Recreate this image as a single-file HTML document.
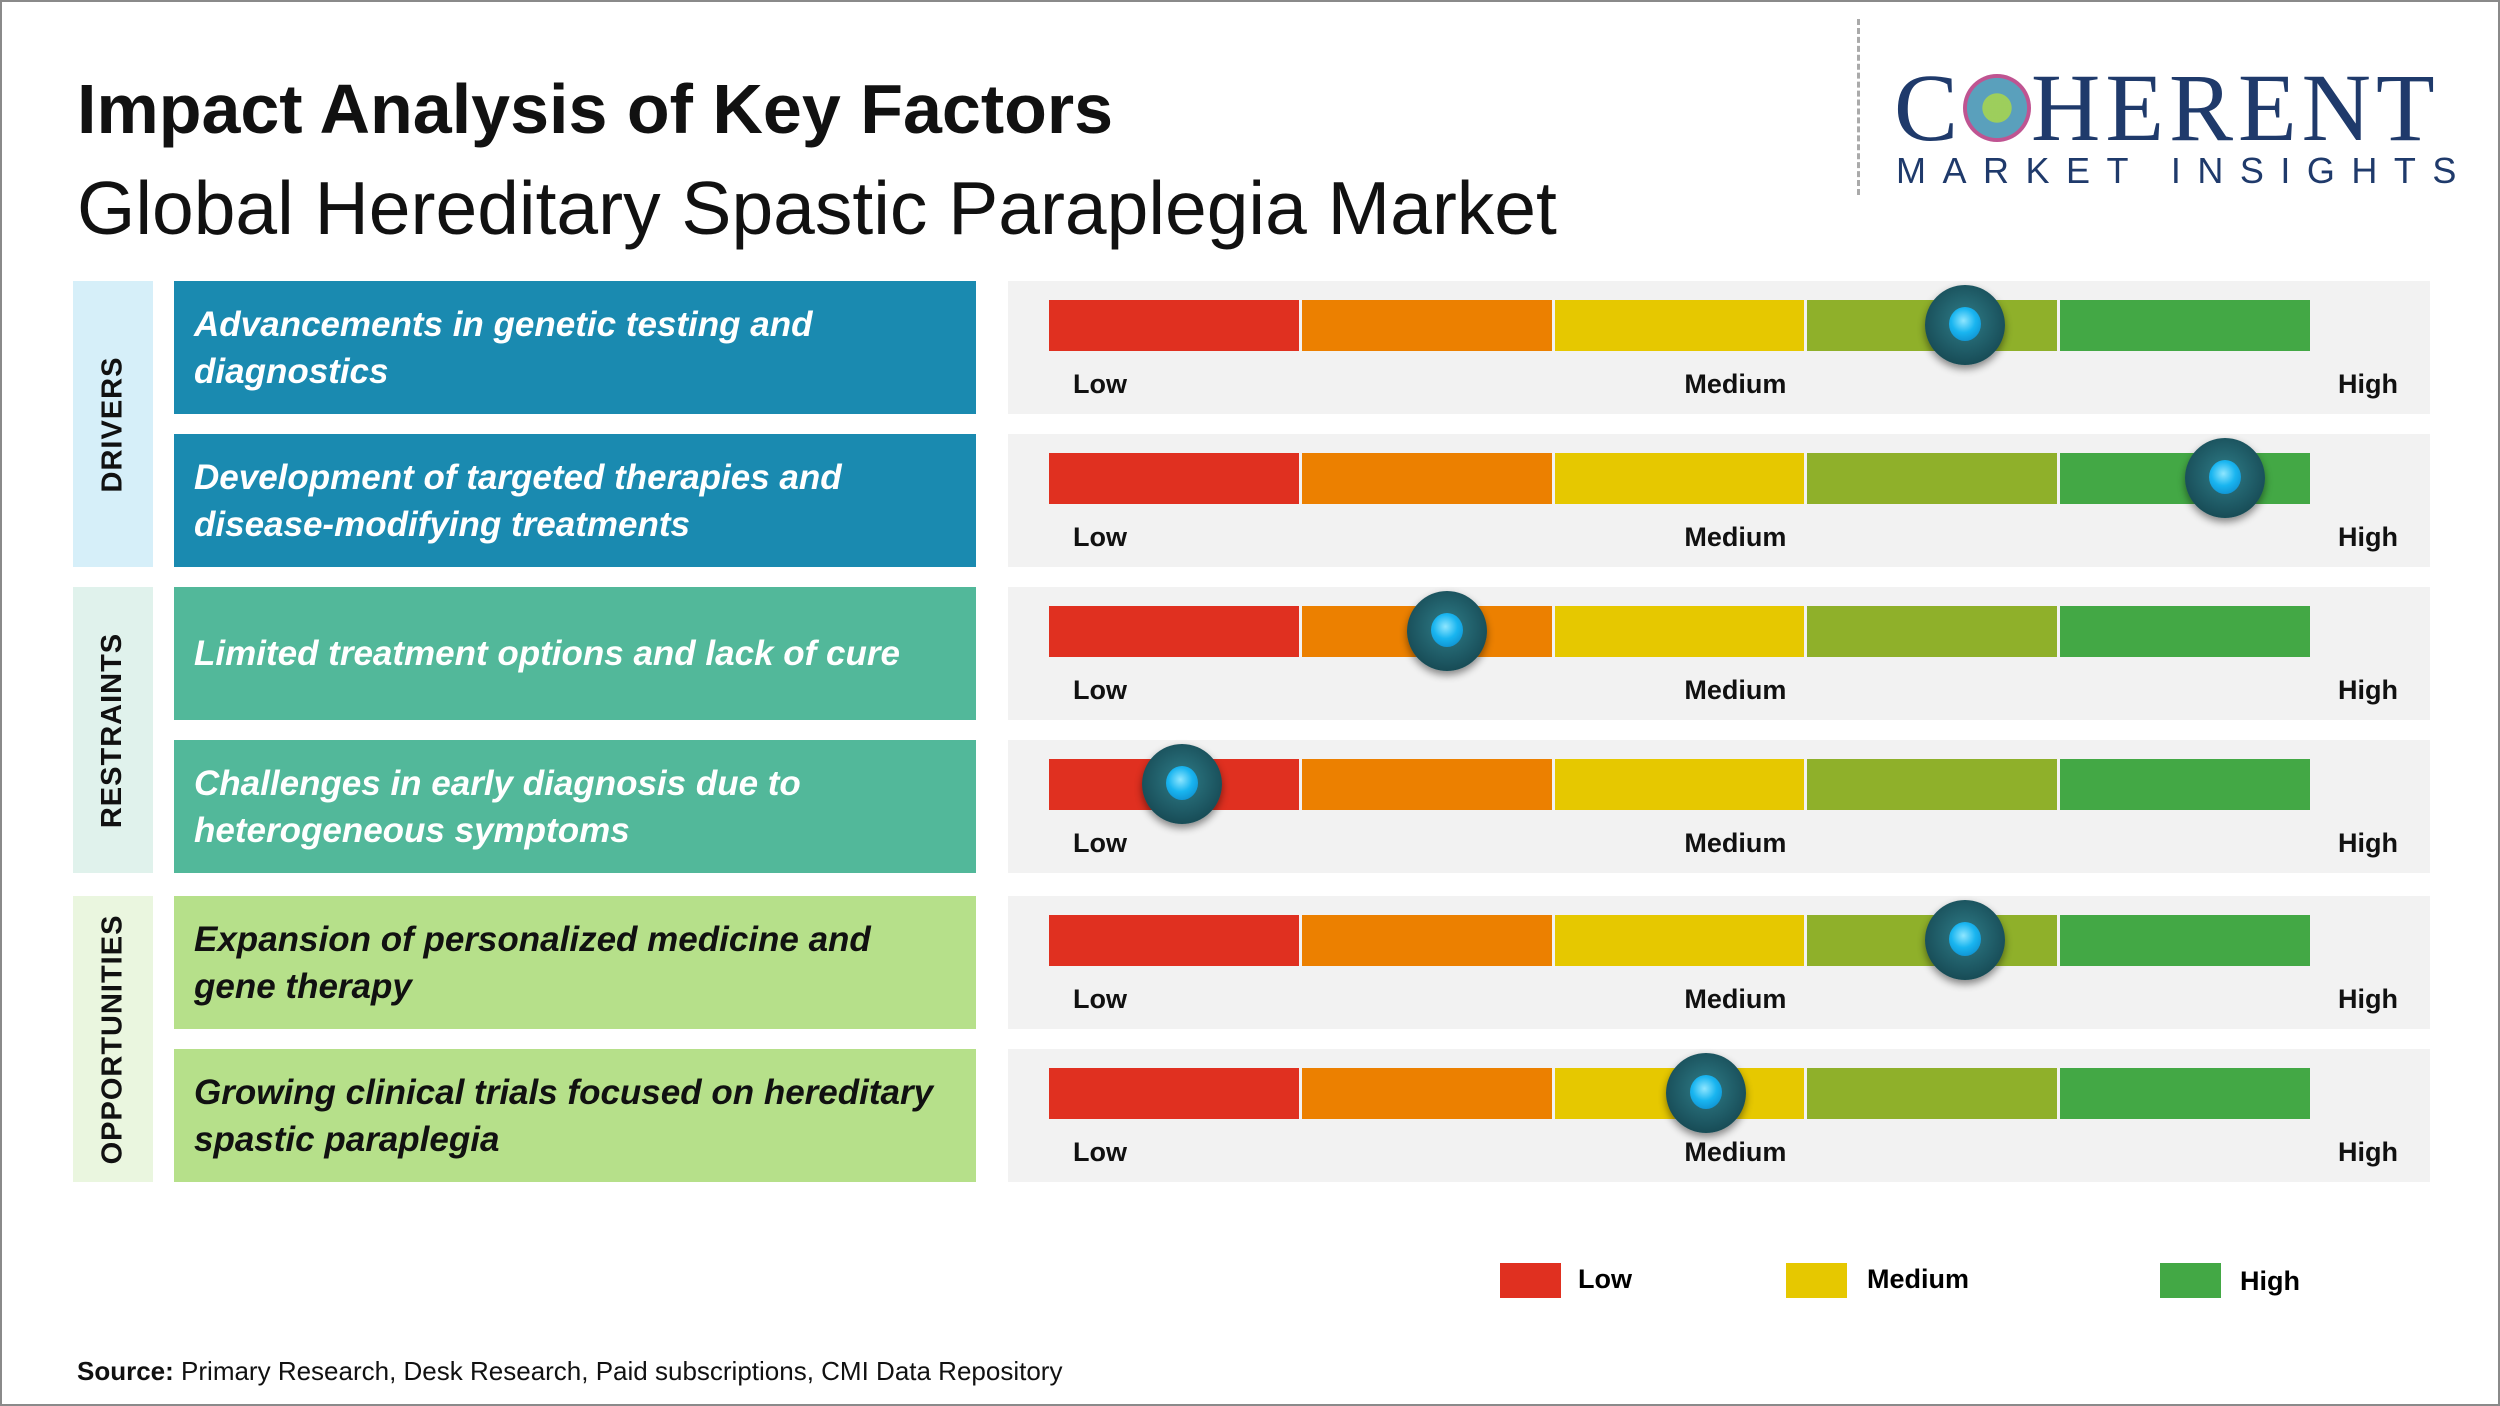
<!DOCTYPE html>
<html><head><meta charset="utf-8"><style>
body{margin:0;width:2500px;height:1406px;overflow:hidden;background:#fff;font-family:"Liberation Sans",sans-serif;position:relative}
#frame{position:absolute;left:0;top:0;width:2496px;height:1402px;border:2px solid #8a8a8a}
.abs{position:absolute}
.cat{position:absolute;left:73px;width:80px;display:flex;align-items:center;justify-content:center}
.cat span{transform:rotate(-90deg);white-space:nowrap;font-weight:bold;font-size:29px;letter-spacing:1px;color:#111}
.tb{position:absolute;left:174px;width:802px;height:133px;display:flex;align-items:center;box-sizing:border-box;padding-left:20px;font-weight:bold;font-style:italic;font-size:35px;line-height:47px;color:#fff}
.panel{position:absolute;left:1008px;width:1422px;height:133px;background:#f2f2f2}
.seg{position:absolute;top:19px;height:51px}
.lbl{position:absolute;top:88px;font-size:27px;font-weight:bold;color:#111}
.knob{position:absolute;width:80px;height:80px;border-radius:50%;background:radial-gradient(circle at 50% 45%,#2f7d88 0%,#1c5560 60%,#0f3a42 100%);box-shadow:0 4px 8px rgba(0,0,0,.45)}
.knob::after{content:"";position:absolute;left:24px;top:22px;width:32px;height:34px;border-radius:50%;background:radial-gradient(circle at 45% 40%,#8fe6ff 0%,#19b5f0 45%,#0a7fc0 100%)}
</style></head><body>
<div id="frame"></div>
<div class="abs" style="left:77px;top:69px;font-size:70px;font-weight:bold;color:#111">Impact Analysis of Key Factors</div>
<div class="abs" style="left:77px;top:165px;font-size:75px;color:#111">Global Hereditary Spastic Paraplegia Market</div>
<div class="abs" style="left:1857px;top:19px;height:176px;border-left:3px dashed #aaa"></div>
<div class="abs" style="left:1894px;top:60px;font-family:'Liberation Serif',serif;font-size:96px;color:#1f3a6b;letter-spacing:5px;line-height:96px">C<span style="display:inline-block;width:68px;height:68px;border-radius:50%;background:radial-gradient(circle,#8cc63f 0 30%,#3d8fb0 31% 62%,#b4367e 63% 100%);vertical-align:-2px;opacity:.85"></span>HERENT</div>
<div class="abs" style="left:1896px;top:150px;font-size:36px;color:#1f3a6b;letter-spacing:16.5px">MARKET INSIGHTS</div>
<div id="rows"></div>
<div class="abs" style="left:1500px;top:1263px;width:61px;height:35px;background:#e03020"></div>
<div class="abs" style="left:1578px;top:1264px;font-size:27px;font-weight:bold">Low</div>
<div class="abs" style="left:1786px;top:1263px;width:61px;height:35px;background:#e6c800"></div>
<div class="abs" style="left:1867px;top:1264px;font-size:27px;font-weight:bold">Medium</div>
<div class="abs" style="left:2160px;top:1263px;width:61px;height:35px;background:#43a845"></div>
<div class="abs" style="left:2240px;top:1266px;font-size:27px;font-weight:bold">High</div>
<div class="abs" style="left:77px;top:1356px;font-size:26px;color:#111"><b>Source:</b> Primary Research, Desk Research, Paid subscriptions, CMI Data Repository</div>
<script>
const categories=["DRIVERS","RESTRAINTS","OPPORTUNITIES"];
const factors=["Advancements in genetic testing and<br>diagnostics","Development of targeted therapies and<br>disease-modifying treatments","Limited treatment options and lack of cure","Challenges in early diagnosis due to<br>heterogeneous symptoms","Expansion of personalized medicine and<br>gene therapy","Growing clinical trials focused on hereditary<br>spastic paraplegia"];
const factorCategory=[0,0,1,1,2,2];
const impactValues=[72.5,93,31.5,10.5,72.5,52];
const catBg=["#d6eff9","#e0f2ec","#eaf6df"];
const boxBg=["#1a8ab0","#52b89a","#b6e08a"];
const boxFg=["#fff","#fff","#111"];
const segColors=["#e03020","#ec8000","#e6c800","#8fb02a","#43a845"];
const rowTop=[281,434,587,740,896,1049];
const barX0=1049,barW=1264;
function xScale(v){return barX0+v/100*barW;}
const root=document.getElementById('rows');
categories.forEach((c,ci)=>{
  const idx=factorCategory.map((f,i)=>f===ci?i:-1).filter(i=>i>=0);
  const t=rowTop[idx[0]],b=rowTop[idx[idx.length-1]]+133;
  const d=document.createElement('div');d.className='cat';
  
  
  d.style.top=t+'px';d.style.height=(b-t)+'px';d.style.background=catBg[ci];
  d.innerHTML='<span>'+c+'</span>';root.appendChild(d);
});
factors.forEach((f,i)=>{
  const ci=factorCategory[i],top=rowTop[i];
  const tb=document.createElement('div');tb.className='tb';
  
  
  tb.style.top=top+'px';tb.style.background=boxBg[ci];tb.style.color=boxFg[ci];
  tb.innerHTML='<div>'+f+'</div>';root.appendChild(tb);
  const p=document.createElement('div');p.className='panel';
  
  
  p.style.top=top+'px';root.appendChild(p);
  const sw=barW/segColors.length;
  segColors.forEach((col,k)=>{
    const s=document.createElement('div');s.className='seg';
    
    
    s.style.left=(barX0-1008+k*sw)+'px';s.style.width=(sw-3)+'px';s.style.background=col;
    p.appendChild(s);
  });
  [['Low',xScale(0)+24,'left'],['Medium',xScale(54.3),'center'],['High',xScale(100)+55,'center']].forEach(([t,x,a])=>{
    const l=document.createElement('div');l.className='lbl';
    
    
    l.textContent=t;
    l.style.left=(x-1008)+'px';if(a==='center')l.style.transform='translateX(-50%)';
    p.appendChild(l);
  });
  const k=document.createElement('div');k.className='knob';
  
  
  k.style.left=(xScale(impactValues[i])-1008-40)+'px';k.style.top=(44-40)+'px';
  p.appendChild(k);
});
</script>
</body></html>
